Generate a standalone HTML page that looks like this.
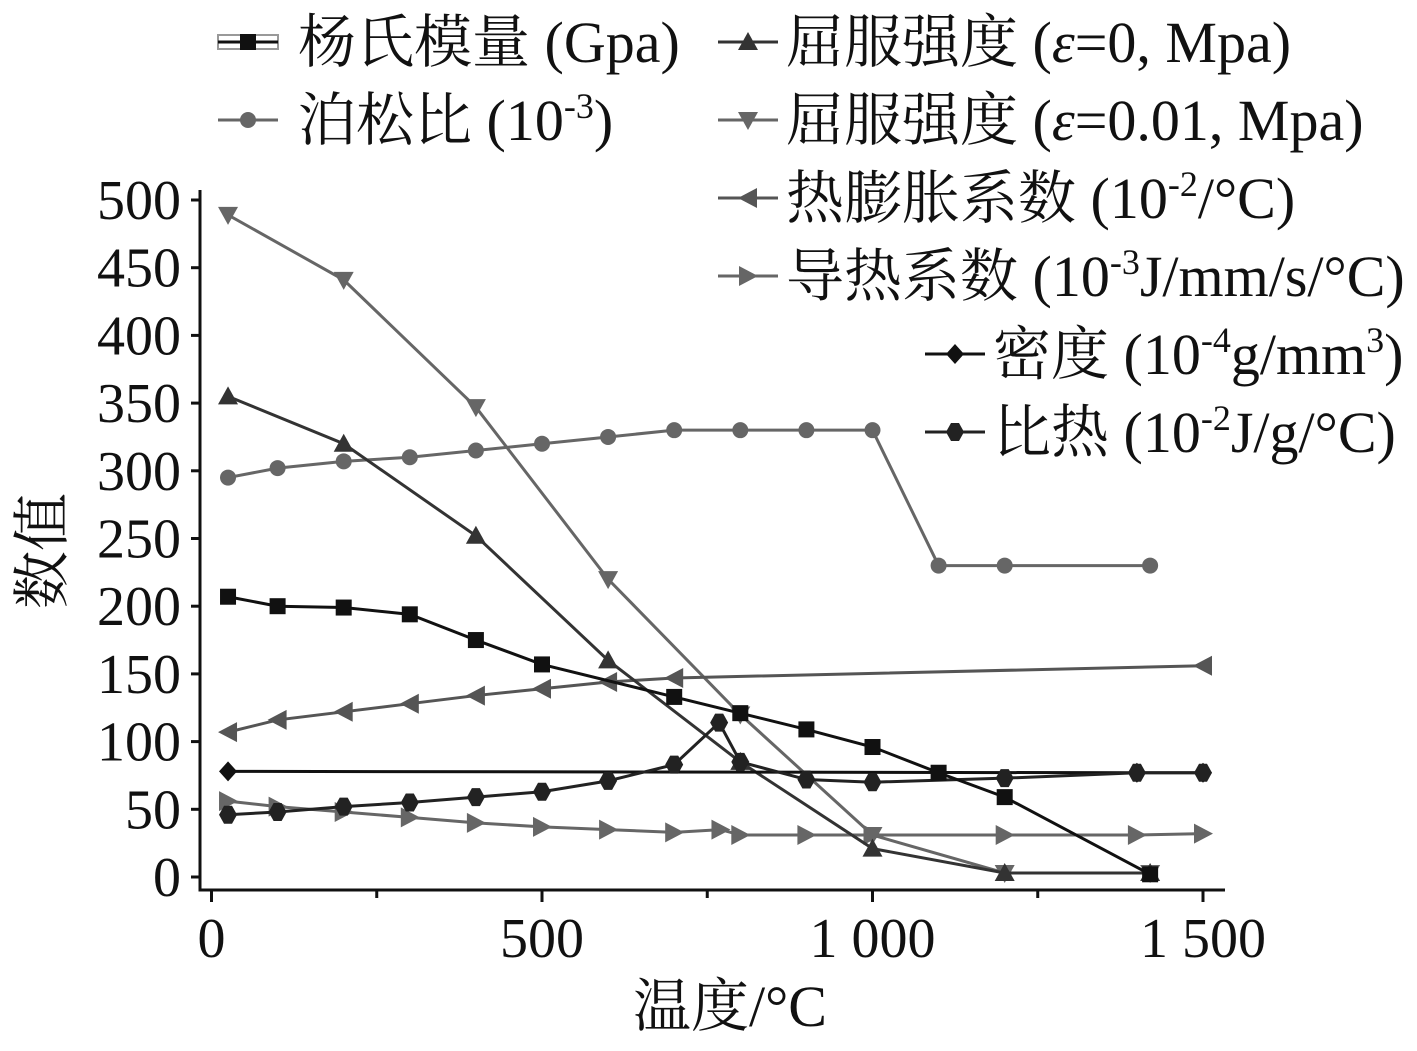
<!DOCTYPE html>
<html><head><meta charset="utf-8">
<style>
html,body{margin:0;padding:0;background:#fff;}
svg{display:block;}
text{font-family:"Liberation Serif","Noto Serif CJK SC","Noto Sans CJK SC",serif;fill:#111;}
</style></head>
<body>
<svg id="chart" width="1417" height="1051" viewBox="0 0 1417 1051">
<g id="axes"></g>
<g id="series"></g>
<g id="legend"></g>
<text x="730" y="1026" font-size="58" text-anchor="middle">温度/°C</text>
<text x="0" y="0" font-size="58" text-anchor="middle" transform="translate(62,551) rotate(-90)">数值</text>
</svg>
<script>
const youngX=[25,100,200,300,400,500,700,800,900,1000,1100,1200,1420];
const youngY=[207,200,199,194,175,157,133,121,109,96,77,59,2];
const yield0X=[25,200,400,600,800,1000,1200,1420];
const yield0Y=[355,320,252,160,85,21,3,3];
const yield1X=[25,200,400,600,800,1000,1200,1420];
const yield1Y=[489,441,347,220,120,31,3,3];
const poissonX=[25,100,200,300,400,500,600,700,800,900,1000,1100,1200,1420];
const poissonY=[295,302,307,310,315,320,325,330,330,330,330,230,230,230];
const expX=[25,100,200,300,400,500,600,700,1500];
const expY=[107,116,122,128,134,139,144,147,156];
const condX=[25,100,200,300,400,500,600,700,770,800,900,1000,1200,1400,1500];
const condY=[56,52,48,44,40,37,35,33,35,31,31,31,31,31,32];
const densX=[25,1400,1500];
const densY=[78,77,77];
const heatX=[25,100,200,300,400,500,600,700,768,800,900,1000,1200,1400,1500];
const heatY=[46,48,52,55,59,63,71,83,114,85,72,70,73,77,77];
const yTicks=[0,50,100,150,200,250,300,350,400,450,500];
const xTicks=[0,500,1000,1500];
const xTickLabels=["0","500","1 000","1 500"];
const xMinor=[250,750,1250];

const NS="http://www.w3.org/2000/svg";
const sx=v=>211.5+v*0.661;
const sy=v=>877-v*1.354;
function mk(tag,attrs,parent){const e=document.createElementNS(NS,tag);for(const k in attrs)e.setAttribute(k,attrs[k]);parent.appendChild(e);return e;}
const axes=document.getElementById('axes');
let ax=mk('path',{d:'M200,190 V890 H1225',fill:'none',stroke:'#111','stroke-width':3},axes);


yTicks.forEach(t=>{
  const l=mk('line',{x1:191,x2:200,y1:sy(t),y2:sy(t),stroke:'#111','stroke-width':3},axes);
  
  
  const tx=mk('text',{x:181,y:sy(t)+19,'font-size':56,'text-anchor':'end'},axes);
  tx.textContent=t;
  
  
});
xTicks.forEach((t,i)=>{
  const l=mk('line',{x1:sx(t),x2:sx(t),y1:890,y2:902,stroke:'#111','stroke-width':3},axes);
  
  
  const tx=mk('text',{x:sx(t),y:957,'font-size':56,'text-anchor':'middle'},axes);
  tx.textContent=xTickLabels[i];
  
  
});
xMinor.forEach(t=>{
  const l=mk('line',{x1:sx(t),x2:sx(t),y1:890,y2:898,stroke:'#111','stroke-width':3},axes);
  
  
});
function marker(type,x,y,c,p){
  const s=9;let e;
  if(type==='square')e=mk('rect',{x:x-s+1,y:y-s+1,width:2*s-2,height:2*s-2,fill:c},p);
  else if(type==='circle')e=mk('circle',{cx:x,cy:y,r:s-1,fill:c},p);
  else if(type==='up')e=mk('polygon',{points:`${x},${y-s-1} ${x+s+1},${y+s-1} ${x-s-1},${y+s-1}`,fill:c},p);
  else if(type==='down')e=mk('polygon',{points:`${x},${y+s+1} ${x+s+1},${y-s+1} ${x-s-1},${y-s+1}`,fill:c},p);
  else if(type==='left')e=mk('polygon',{points:`${x-s-1},${y} ${x+s},${y-s-1} ${x+s},${y+s+1}`,fill:c},p);
  else if(type==='right')e=mk('polygon',{points:`${x+s+1},${y} ${x-s},${y-s-1} ${x-s},${y+s+1}`,fill:c},p);
  else if(type==='diamond')e=mk('polygon',{points:`${x},${y-s-1} ${x+s},${y} ${x},${y+s+1} ${x-s},${y}`,fill:c},p);
  else if(type==='hex')e=mk('polygon',{points:`${x-4},${y-s} ${x+4},${y-s} ${x+s},${y} ${x+4},${y+s} ${x-4},${y+s} ${x-s},${y}`,fill:c},p);
  return e;
}
const seriesDefs=[
 ['poisson',poissonX,poissonY,'#666','circle'],
 ['yield-0.01',yield1X,yield1Y,'#666','down'],
 ['thermal-expansion',expX,expY,'#555','left'],
 ['thermal-conductivity',condX,condY,'#666','right'],
 ['yield-0',yield0X,yield0Y,'#333','up'],
 ['density',densX,densY,'#111','diamond'],
 ['specific-heat',heatX,heatY,'#222','hex'],
 ['young-modulus',youngX,youngY,'#111','square'],
];
const sg=document.getElementById('series');
seriesDefs.forEach(([name,xs,ys,c,m])=>{
  const g=mk('g',{},sg);
  
  
  const pl=mk('polyline',{points:xs.map((x,i)=>sx(x)+','+sy(ys[i])).join(' '),fill:'none',stroke:c,'stroke-width':3},g);
  
  
  xs.forEach((x,i)=>{
    const e=marker(m,sx(x),sy(ys[i]),c,g);
    
    
  });
});
const SUP='font-size="36" dy="-22"', DN='dy="22"';
const legendItems=[
 [218,42,80,'#111','square','杨氏模量 (Gpa)'],
 [718,42,68,'#333','up','屈服强度 (<tspan font-style="italic">ε</tspan>=0, Mpa)'],
 [218,120,80,'#666','circle',`泊松比 (10<tspan ${SUP}>-3</tspan><tspan ${DN}>)</tspan>`],
 [718,120,68,'#666','down','屈服强度 (<tspan font-style="italic">ε</tspan>=0.01, Mpa)'],
 [718,198,68,'#555','left',`热膨胀系数 (10<tspan ${SUP}>-2</tspan><tspan ${DN}>/°C)</tspan>`],
 [718,276,68,'#666','right',`导热系数 (10<tspan ${SUP}>-3</tspan><tspan ${DN}>J/mm/s/°C)</tspan>`],
 [925,354,68,'#111','diamond',`密度 (10<tspan ${SUP}>-4</tspan><tspan ${DN}>g/mm</tspan><tspan ${SUP}>3</tspan><tspan ${DN}>)</tspan>`],
 [925,432,68,'#222','hex',`比热 (10<tspan ${SUP}>-2</tspan><tspan ${DN}>J/g/°C)</tspan>`],
];
const lg=document.getElementById('legend');
legendItems.forEach(([x,y,off,c,m,label])=>{
  const g=mk('g',{},lg);
  
  
  if(m==='square'){mk('rect',{x:x,y:y-7,width:60,height:14,fill:'#fff',stroke:'#999','stroke-width':2},g);}
  mk('line',{x1:x,x2:x+60,y1:y,y2:y,stroke:c,'stroke-width':3},g);
  marker(m,x+30,y,c,g);
  const t=mk('text',{x:x+off,y:y+20,'font-size':58},g);
  t.innerHTML=label;
});
</script>
</body></html>
